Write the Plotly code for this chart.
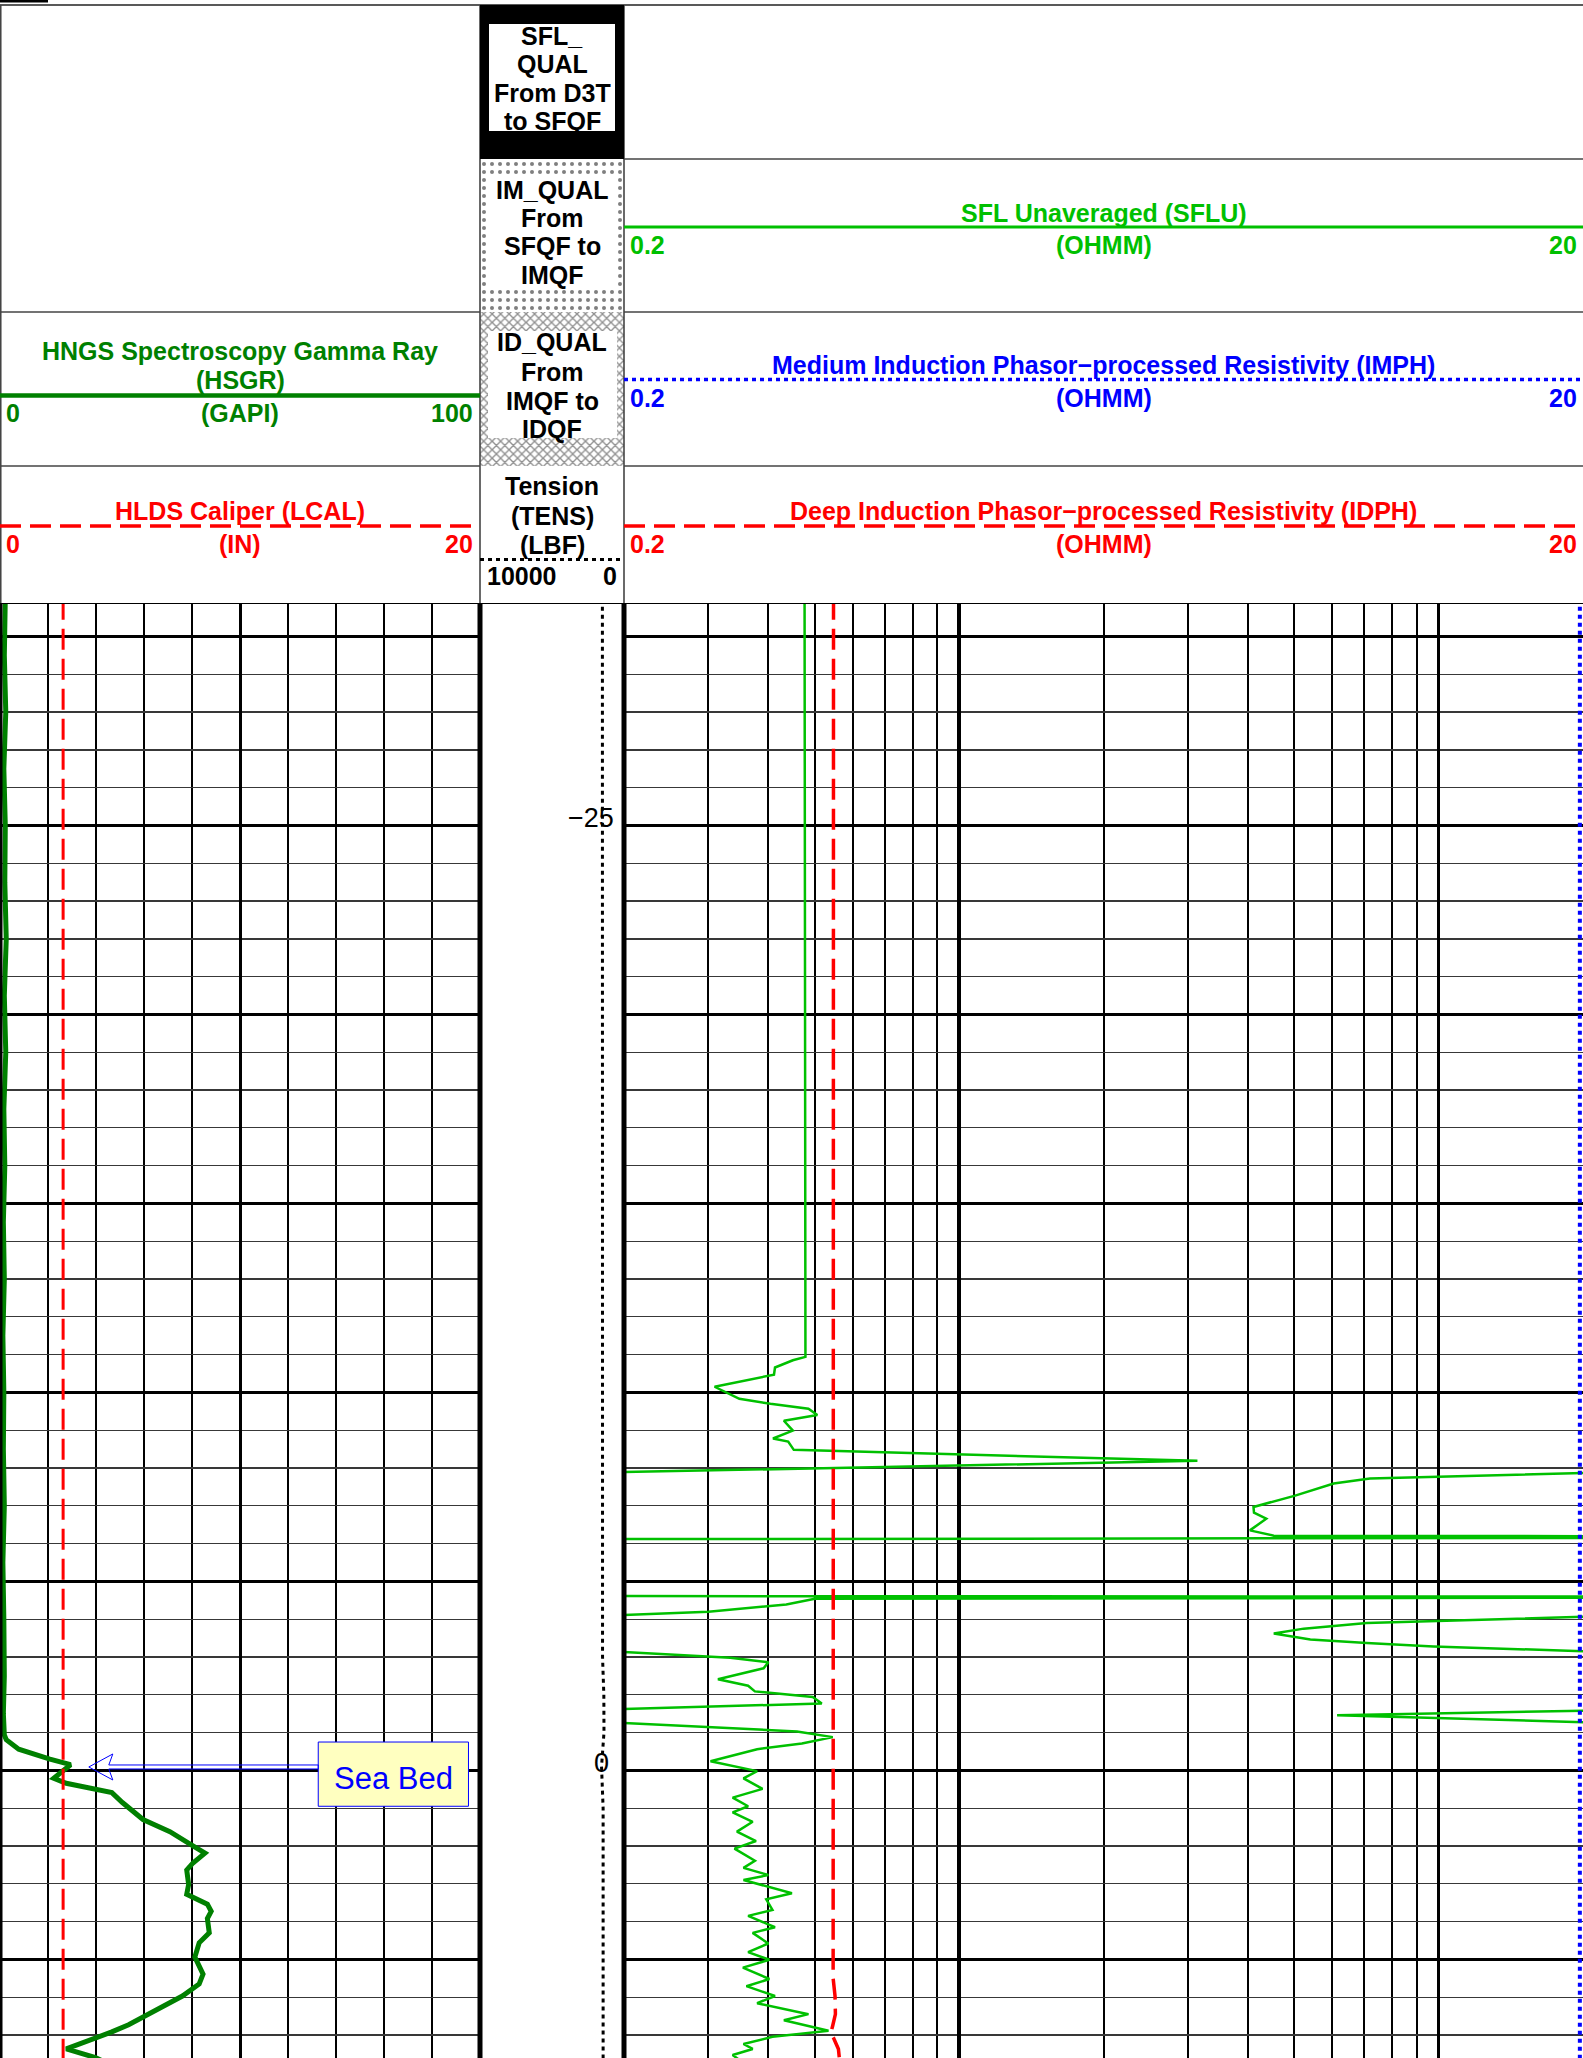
import math
import plotly.graph_objects as go

W, H = 1583, 2058

depth_range = [7.61, -30.86]            # metres, bottom -> top of the visible window
depth_label_values = [-25, 0]
depth_label_text = ["\u221225", "0"]

# HNGS gamma ray (GAPI)
hsgr_depth = [-31.0, -29.5, -28.0, -26.5, -25.0, -23.5, -22.0, -20.5, -19.0, -17.5, -16.0,
              -14.5, -13.0, -11.5, -10.0, -8.5, -7.0, -5.5, -4.0, -2.5, -1.5,
              -0.94, -0.81, -0.56, -0.30, -0.15, 0.21, 0.34, 0.59, 0.85, 1.30,
              1.62, 2.00, 2.19, 2.45, 2.64, 3.02, 3.28, 3.54, 3.73, 3.92,
              4.30, 4.56, 4.94, 5.39, 5.65, 5.97, 6.48, 6.73, 6.92, 7.37, 7.60, 7.85]
hsgr_gapi = [1.1, 0.9, 1.2, 0.8, 1.1, 1.0, 1.3, 0.9, 1.2, 0.8, 1.0,
             0.7, 0.9, 0.6, 0.8, 0.7, 0.9, 0.6, 0.8, 0.9, 0.7,
             0.9, 1.3, 3.9, 10.4, 14.7, 11.2, 13.8, 23.3, 25.5, 29.8,
             35.4, 40.2, 42.7, 40.2, 38.9, 39.3, 38.9, 43.2, 44.0, 43.2,
             43.6, 41.5, 40.6, 42.3, 41.5, 38.0, 30.2, 26.8, 23.3, 13.8, 19.9, 24.0]

# HLDS caliper (IN)
lcal_depth = [-31.0, 7.85]
lcal_in = [2.63, 2.63]

# Tension (LBF)
tens_depth = [-31.0, -3.0, -2.0, -1.0, -0.1, 1.0, 7.85]
tens_lbf = [1500, 1490, 1400, 1390, 1560, 1450, 1450]

# SFL unaveraged (OHMM) - pieces between off-scale excursions
sflu_depth_segments = [
    [-31.0, -10.94, -10.85, -10.66, -10.47, -10.15, -9.83, -9.70, -9.57, -9.40, -9.25,
     -8.99, -8.78, -8.70, -8.48, -8.19, -7.86],
    [-7.90, -7.72, -7.59, -7.27, -6.97, -6.82, -6.66, -6.35, -6.21, -6.17, -6.10,
     -4.62, -4.59, -4.54, -4.39, -4.20, -4.05],
    [-4.10, -3.90, -3.75, -3.62, -3.46, -3.37, -3.28, -3.11],
    [-3.22, -2.98, -2.86, -2.70, -2.41, -2.24, -2.09, -1.94, -1.77, -1.58],
    [-1.60, -1.46, -1.24],
    [-1.33, -1.03, -0.88, -0.71, -0.56, -0.24, 0.02,
     0.21, 0.49, 0.72, 0.95, 1.11, 1.36, 1.62, 1.87, 2.07, 2.39,
     2.58, 2.77, 2.90, 3.25, 3.41, 3.69, 3.85, 4.15, 4.30, 4.58,
     4.81, 5.01, 5.22, 5.52, 5.71, 5.97, 6.16, 6.45, 6.61, 6.89,
     7.05, 7.24, 7.37, 7.53, 7.80],
]
sflu_ohmm_segments = [
    [0.476, 0.478, 0.450, 0.413, 0.411, 0.309, 0.348, 0.404, 0.485, 0.506, 0.431,
     0.450, 0.409, 0.440, 0.452, 3.14, 0.15],
    [25, 7.19, 6.04, 5.02, 4.11, 4.12, 4.37, 4.04, 4.53, 500, 0.01,
     0.01, 500, 0.50, 0.436, 0.30, 0.15],
    [25, 7.08, 5.23, 4.53, 5.40, 7.08, 9.75, 25],
    [0.15, 0.333, 0.400, 0.391, 0.314, 0.363, 0.375, 0.495, 0.517, 0.15],
    [25, 6.14, 25],
    [0.15, 0.459, 0.545, 0.470, 0.379, 0.303, 0.379,
     0.355, 0.389, 0.337, 0.363, 0.337, 0.371, 0.344, 0.377, 0.340, 0.375,
     0.355, 0.400, 0.355, 0.448, 0.396, 0.408, 0.363, 0.413, 0.371, 0.400,
     0.363, 0.402, 0.354, 0.402, 0.360, 0.413, 0.379, 0.485, 0.431, 0.534,
     0.408, 0.355, 0.371, 0.337, 0.36],
]

# Medium / deep induction (OHMM)
imph_depth = [-31.0, 7.85]
imph_ohmm = [19.7, 19.7]
idph_depth = [-31.0, 4.0, 4.55, 5.5, 5.97, 6.45, 6.75, 6.95, 7.1, 7.37, 7.85]
idph_ohmm = [0.547, 0.547, 0.545, 0.546, 0.551, 0.552, 0.545, 0.540, 0.548, 0.560, 0.565]

# scales
gr_scale = [0, 100]
cal_scale = [0, 20]
tens_scale = [10000, 0]
res_scale = [0.2, 20]

# header texts
qual_boxes = [["SFL_", "QUAL", "From D3T", "to SFQF"],
              ["IM_QUAL", "From", "SFQF to", "IMQF"],
              ["ID_QUAL", "From", "IMQF to", "IDQF"]]
tension_title = ["Tension", "(TENS)", "(LBF)"]
hsgr_title = ["HNGS Spectroscopy Gamma Ray", "(HSGR)"]
hsgr_unit = "(GAPI)"
lcal_title = "HLDS Caliper (LCAL)"
lcal_unit = "(IN)"
sflu_title = "SFL Unaveraged (SFLU)"
imph_title = "Medium Induction Phasor\u2212processed Resistivity (IMPH)"
idph_title = "Deep Induction Phasor\u2212processed Resistivity (IDPH)"
res_unit = "(OHMM)"
seabed_text = "Sea Bed"
seabed_depth = -0.09
seabed_tip_gapi = 18.5

# ---------------- layout geometry (pixels) ----------------
XL1, XC1 = 480, 624            # track borders
Y_TOP, Y_R1, Y_R2, Y_R3, Y_DATA = 5, 159, 312, 466, 604
dom_top = (H - Y_DATA) / H
XCM = (XL1 + XC1) / 2
XLM = XL1 / 2
XRM = (XC1 + W) / 2
depth_label_x_px = [591, 601]

GREEN_D = "#008000"
GREEN_L = "#00C000"
RED = "#FF0000"
BLUE = "#0000FF"
FONT = "Liberation Sans, Arial, Helvetica, sans-serif"
HSIZE = 25

fmt = lambda v: f"{v:g}"

fig = go.Figure()

# ---------------- header patterned cells ----------------
def rect_xy(x0, x1, y0, y1):
    return [x0, x1, x1, x0, x0], [y0, y0, y1, y1, y0]

hx, hy = rect_xy(XL1, XC1, Y_R1, Y_R2)
fig.add_trace(go.Scatter(x=hx, y=hy, xaxis="x5", yaxis="y5", mode="lines", fill="toself",
                         line=dict(width=0), hoverinfo="skip",
                         fillpattern=dict(shape=".", fgcolor="black", bgcolor="white",
                                          size=8, solidity=0.2)))
hx, hy = rect_xy(XL1, XC1, Y_R2, Y_R3)
fig.add_trace(go.Scatter(x=hx, y=hy, xaxis="x5", yaxis="y5", mode="lines", fill="toself",
                         line=dict(width=0), hoverinfo="skip",
                         fillpattern=dict(shape="x", fgcolor="#222222", bgcolor="white",
                                          size=6, solidity=0.4)))

# ---------------- curves ----------------
fig.add_trace(go.Scatter(x=hsgr_gapi, y=hsgr_depth, xaxis="x", yaxis="y", mode="lines",
                         line=dict(color=GREEN_D, width=5), hoverinfo="skip"))
fig.add_trace(go.Scatter(x=lcal_in, y=lcal_depth, xaxis="x2", yaxis="y", mode="lines",
                         line=dict(color=RED, width=3, dash="21px,9px"), hoverinfo="skip"))
fig.add_trace(go.Scatter(x=tens_lbf, y=tens_depth, xaxis="x3", yaxis="y2", mode="lines",
                         line=dict(color="black", width=3, dash="4px,4px"), hoverinfo="skip"))

sflu_d, sflu_v = [], []
for dseg, vseg in zip(sflu_depth_segments, sflu_ohmm_segments):
    if sflu_d:
        sflu_d.append(None)
        sflu_v.append(None)
    sflu_d += dseg
    sflu_v += vseg
fig.add_trace(go.Scatter(x=sflu_v, y=sflu_d, xaxis="x4", yaxis="y3", mode="lines",
                         connectgaps=False, line=dict(color=GREEN_L, width=2.5, simplify=False),
                         hoverinfo="skip"))
fig.add_trace(go.Scatter(x=idph_ohmm, y=idph_depth, xaxis="x4", yaxis="y3", mode="lines",
                         line=dict(color=RED, width=3.5, dash="21px,9px"), hoverinfo="skip"))
fig.add_trace(go.Scatter(x=imph_ohmm, y=imph_depth, xaxis="x4", yaxis="y3", mode="lines",
                         line=dict(color=BLUE, width=4, dash="4px,4px"), hoverinfo="skip"))

# ---------------- axes ----------------
hidden = dict(visible=False, fixedrange=True)
depth_axis = dict(domain=[0, dom_top], range=depth_range, tickmode="linear", tick0=0, dtick=5,
                  showgrid=True, gridcolor="black", gridwidth=3,
                  minor=dict(tickmode="linear", tick0=0, dtick=1, showgrid=True,
                             gridcolor="#383838", gridwidth=1.3),
                  showticklabels=False, ticks="", zeroline=False, showline=False, fixedrange=True)

fig.update_layout(
    width=W, height=H, margin=dict(l=0, r=0, t=0, b=0), autosize=False,
    paper_bgcolor="white", plot_bgcolor="white", showlegend=False, hovermode=False,
    font=dict(family=FONT, color="black"),
    xaxis=dict(domain=[0, XL1 / W], range=gr_scale, anchor="y", tickmode="linear", tick0=0, dtick=50,
               showgrid=True, gridcolor="black", gridwidth=3,
               minor=dict(tickmode="linear", tick0=0, dtick=10, showgrid=True,
                          gridcolor="black", gridwidth=2),
               showticklabels=False, ticks="", zeroline=False, showline=False, fixedrange=True),
    xaxis2=dict(overlaying="x", range=cal_scale, anchor="y", **hidden),
    yaxis=dict(anchor="x", **depth_axis),
    xaxis3=dict(domain=[XL1 / W, XC1 / W], range=tens_scale, anchor="y2", **hidden),
    yaxis2=dict(domain=[0, dom_top], range=depth_range, anchor="x3", **hidden),
    xaxis4=dict(domain=[XC1 / W, 1], type="log", range=[math.log10(res_scale[0]), math.log10(res_scale[1])],
                anchor="y3", tickmode="linear", tick0=0, dtick=1,
                showgrid=True, gridcolor="black", gridwidth=3.5,
                minor=dict(dtick="D1", showgrid=True, gridcolor="black", gridwidth=2),
                showticklabels=False, ticks="", zeroline=False, showline=False, fixedrange=True),
    yaxis3=dict(anchor="x4", **depth_axis),
    xaxis5=dict(domain=[0, 1], range=[0, W], anchor="y5", **hidden),
    yaxis5=dict(domain=[dom_top, 1], range=[Y_DATA, 0], anchor="x5", **hidden),
)

# ---------------- shapes ----------------
shapes = []
def hline(y, x0, x1, color="#444444", width=1.6, dash="solid"):
    shapes.append(dict(type="line", xref="x5", yref="y5", x0=x0, x1=x1, y0=y, y1=y,
                       line=dict(color=color, width=width, dash=dash), layer="above"))
def vline(x, y0, y1, color="#444444", width=1.6):
    shapes.append(dict(type="line", xref="x5", yref="y5", x0=x, x1=x, y0=y0, y1=y1,
                       line=dict(color=color, width=width), layer="above"))
def rect(x0, x1, y0, y1, fill, line_color=None, lw=0):
    shapes.append(dict(type="rect", xref="x5", yref="y5", x0=x0, x1=x1, y0=y0, y1=y1,
                       fillcolor=fill, line=dict(color=line_color or fill, width=lw), layer="above"))

# header frame
hline(1, 0, 48, color="black", width=3)
hline(Y_TOP, 0, W, color="#222222")
for y in (Y_R2, Y_R3):
    hline(y, 0, XL1)
for y in (Y_R1, Y_R2, Y_R3):
    hline(y, XC1, W)
vline(0.75, Y_TOP, Y_DATA)
vline(XL1, Y_TOP, Y_DATA)
vline(XC1, Y_TOP, Y_DATA)

# quality boxes
rect(XL1, XC1, Y_TOP, Y_R1, "black")
rect(489, 615, 24, 131, "white")
rect(488, 616, 175, 286, "white")
rect(488, 617, 331, 438, "white")

# header curve-style lines
hline(227, XC1, W, color=GREEN_L, width=3)
hline(395.5, 0, XL1, color=GREEN_D, width=4.5)
hline(379.5, XC1, W, color=BLUE, width=3.5, dash="4px,4px")
hline(526, 0, XL1, color=RED, width=3.5, dash="21px,9px")
hline(526, XC1, W, color=RED, width=3.5, dash="21px,9px")
hline(559.5, XL1, XC1, color="black", width=3, dash="4px,4px")

# data-area frame
hline(Y_DATA, 0, W, color="black", width=2)
for x, w in ((1, 3), (XL1, 5), (XC1, 5)):
    shapes.append(dict(type="line", xref="paper", yref="paper", x0=x / W, x1=x / W, y0=0, y1=dom_top,
                       line=dict(color="black", width=w), layer="above"))

# Sea Bed callout (left track data coordinates)
gapi_per_px = (gr_scale[1] - gr_scale[0]) / XL1
m_per_px = (depth_range[0] - depth_range[1]) / (H - Y_DATA)
box_x0, box_x1 = 66.3, 97.6
box_y0, box_y1 = -0.75, 0.95
shapes.append(dict(type="rect", xref="x", yref="y", x0=box_x0, x1=box_x1, y0=box_y0, y1=box_y1,
                   fillcolor="#FFFFC0", line=dict(color=BLUE, width=1), layer="above"))
tx, ty = seabed_tip_gapi, seabed_depth
hb = tx + 24 * gapi_per_px
nb = tx + 20 * gapi_per_px
hh = 13 * m_per_px
sh = 2 * m_per_px
path = (f"M {tx},{ty} L {hb},{ty - hh} L {nb},{ty - sh} L {box_x0},{ty - sh} "
        f"L {box_x0},{ty + sh} L {nb},{ty + sh} L {hb},{ty + hh} Z")
shapes.append(dict(type="path", xref="x", yref="y", path=path, fillcolor="rgba(0,0,0,0)",
                   line=dict(color=BLUE, width=1), layer="above"))
fig.update_layout(shapes=shapes)

# ---------------- annotations ----------------
ann = []
def text(t, x, y, color="black", size=HSIZE, anchor="center", bold=True):
    ann.append(dict(text=f"<b>{t}</b>" if bold else t, x=x, y=y, xref="x5", yref="y5",
                    showarrow=False, xanchor=anchor, yanchor="middle",
                    font=dict(size=size, color=color, family=FONT)))

box_rows = [[36, 64, 93, 121], [190, 218, 246, 275], [342, 371.5, 401, 429]]
for lines, ys in zip(qual_boxes, box_rows):
    for t, y in zip(lines, ys):
        text(t, XCM, y)
for t, y in zip(tension_title, [486, 515.5, 545]):
    text(t, XCM, y)
text(fmt(tens_scale[0]), 485, 576, anchor="left")
text(fmt(tens_scale[1]), 619, 576, anchor="right")

# gamma ray
text(hsgr_title[0], XLM, 351, GREEN_D)
text(hsgr_title[1], XLM, 380, GREEN_D)
text(fmt(gr_scale[0]), 4, 413, GREEN_D, anchor="left")
text(hsgr_unit, XLM, 413, GREEN_D)
text(fmt(gr_scale[1]), 475, 413, GREEN_D, anchor="right")
# caliper
text(lcal_title, XLM, 511, RED)
text(fmt(cal_scale[0]), 4, 543.5, RED, anchor="left")
text(lcal_unit, XLM, 543.5, RED)
text(fmt(cal_scale[1]), 475, 543.5, RED, anchor="right")
# resistivities
for title, color, yt, yl in ((sflu_title, GREEN_L, 213, 244.5),
                             (imph_title, BLUE, 365, 398),
                             (idph_title, RED, 511, 543.5)):
    text(title, XRM, yt, color)
    text(fmt(res_scale[0]), 628, yl, color, anchor="left")
    text(res_unit, XRM, yl, color)
    text(fmt(res_scale[1]), 1579, yl, color, anchor="right")

# depth labels
for v, t, xp in zip(depth_label_values, depth_label_text, depth_label_x_px):
    ann.append(dict(text=t, x=xp / W, xref="paper", y=v, yref="y2", yshift=7.5,
                    showarrow=False, xanchor="center", yanchor="middle",
                    font=dict(size=27, color="black", family=FONT)))

# sea bed label
ann.append(dict(text=seabed_text, x=(box_x0 + box_x1) / 2, y=(box_y0 + box_y1) / 2, xref="x", yref="y",
                yshift=-4, showarrow=False, xanchor="center", yanchor="middle",
                font=dict(size=31, color=BLUE, family=FONT)))

fig.update_layout(annotations=ann)

fig.write_html("out.html", config={"displayModeBar": False, "staticPlot": True},
               post_script="document.body.style.margin='0px';document.body.style.overflow='hidden';")
